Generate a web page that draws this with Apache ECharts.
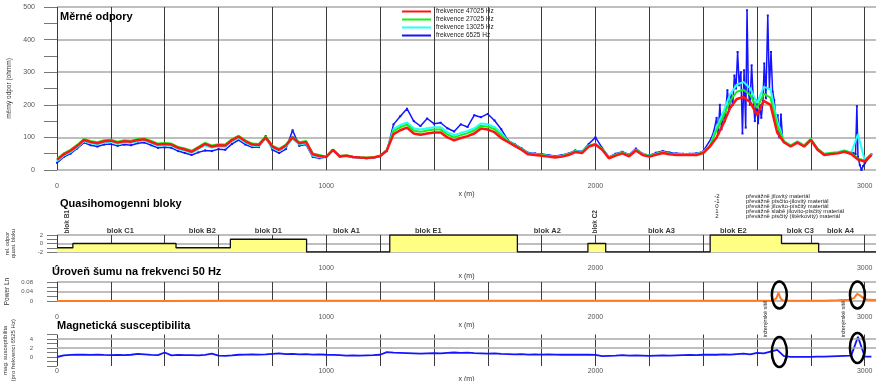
<!DOCTYPE html>
<html>
<head>
<meta charset="utf-8">
<script src="https://cdn.jsdelivr.net/npm/echarts@6/dist/echarts.min.js"></script>
<style>
html, body { margin: 0; padding: 0; background: #fff; }
#main { width: 876px; height: 381px; }
</style>
</head>
<body>
<div id="main"></div>
<script>
// samples every 25 m along the profile
const STEP = 25;
const red = [31,48,59,74,92,86,82,88,90,84, 88,87,92,94,86,78,80,78,68,63,
  56,68,80,72,76,75,92,102,88,78, 77,100,72,62,75,100,82,86,48,43,
  40,62,42,44,40,38,37,38,43,60, 110,122,130,112,108,112,115,115,100,91,
  98,104,112,127,124,116,98,86,74,62, 48,46,44,41,38,41,46,55,52,72,
  78,62,36,44,51,42,60,46,41,47, 52,48,46,46,46,46,52,72,100,142,
  190,218,224,208,168,212,200,115,85,72, 84,72,92,62,46,49,51,56,49,32, 26,46];
const green = [34,51,62,77,95,89,85,91,93,87, 91,90,95,97,89,81,83,81,71,66,
  59,71,83,75,79,78,95,105,91,81, 80,103,75,65,78,103,85,89,51,46,
  41,63,43,45,41,39,38,39,44,61, 119,131,139,121,117,121,124,124,109,100,
  107,113,121,136,133,125,107,88,76,64, 50,48,46,43,40,43,48,57,54,74,
  80,64,38,46,53,44,62,48,43,49, 54,50,48,48,48,48,54,74,122,164,
  212,240,246,230,190,234,222,137,88,75, 87,75,95,65,49,52,54,59,52,35, 29,49];
const cyan = [27,44,55,70,88,82,78,84,86,80, 84,83,88,90,82,74,76,74,64,59,
  52,64,76,68,72,71,88,98,84,74, 73,96,68,58,71,96,78,82,44,39,
  40,62,42,44,40,38,37,38,43,60, 126,138,146,128,124,128,131,131,116,107,
  114,120,128,143,140,132,114,89,77,65, 51,49,47,44,41,44,49,58,55,75,
  81,65,39,47,54,45,63,49,44,50, 55,51,49,49,49,49,55,75,130,178,
  232,262,270,250,205,255,248,150,89,76, 88,76,96,66,50,53,55,60,53,110, 30,50];
const blue = [22,40,50,66,84,76,72,78,80,74, 78,76,82,84,76,68,70,68,58,52,
  46,54,60,58,64,62,80,92,78,70, 70,104,62,52,64,122,74,78,40,36,
  40,60,41,43,39,37,36,37,42,58, 140,165,188,150,135,158,142,145,128,118,
  140,132,168,162,172,152,125,91,79,67, 53,51,49,46,43,46,51,60,57,80,
  100,68,40,50,56,47,66,50,45,53, 58,54,51,50,50,51,57,76,110,190,
  300,362,140,490,160,310,471,170,87,74, 86,74,94,64,48,51,53,58,51,196, 5,48];
// denser readings of the noisy 6525 Hz trace
const blueSpikeDist = [2430,2440,2450,2456,2462,2468,2475,2481,2490,2497,2503,2510,2516,2522,2528,2534,
  2540,2546,2552,2558,2563,2568,2574,2580,2586,2592,2598,2604,2610,2616,2622,2627,2633,2640,2646,2652,
  2658,2664,2670,2677,2683,2689,2695,2702, 2958,2966,2971,2975,2982,2988,2994,3000];
const blueSpike = [97,120,160,110,200,125,170,150,245,190,230,200,290,250,362,260,
  300,112,306,130,490,240,200,321,220,150,214,143,200,160,210,327,220,474,250,362,
  240,214,160,168,100,170,95,85, 52,48,196,40,15,0,12,20];

const magSus = [0,0.35,0.45,0.5,0.5,0.45,0.55,0.45,0.4,0.45, 0.4,0.5,0.7,0.6,0.45,0.4,1.0,0.35,0.45,0.4,
  0.4,0.35,0.45,0.75,0.3,0.25,0.35,0.5,0.55,0.6, 0.55,0.6,0.7,0.8,0.65,0.7,0.6,0.65,0.55,0.6,
  0.5,0.45,0.4,0.3,0.35,0.3,0.35,0.4,0.5,1.1, 0.95,0.9,0.85,0.8,0.75,0.8,0.85,0.8,0.9,1.0,
  0.9,0.95,0.85,0.8,0.75,0.8,0.7,0.65,0.6,0.65, 0.55,0.6,0.55,0.6,0.55,0.5,0.55,0.5,0.5,0.55,
  0.45,0.2,0.25,0.3,0.4,0.3,0.35,0.3,0.25,0.3, 0.35,0.3,0.35,0.4,0.45,0.4,0.5,0.55,0.5,0.6,
  0.55,0.65,0.75,0.6,0.9,0.8,1.2,1.6,0.2,0.05, 0.05,0.05,0.05,0.1,0.1,0.15,0.2,0.25,0.3,4.5, 0.1,0.1];

const powerDist = [0,200,400,600,800,1000,1200,1400,1600,1800,2000,2200,2400,2600,2660,2672,2680,2686,
  2694,2710,2800,2850,2900,2940,2960,2972,2982,2995,3010,3042];
const power = [0,0,0,0.001,0.001,0.001,0.001,0.001,0.001,0.001,0.001,0.001,0.001,0.001,0.001,0.012,0.035,0.014,
  0.003,0.001,0.001,0.001,0.003,0.005,0.012,0.03,0.024,0.012,0.005,0.004];

const blockStart = [0,59,442,644,927,1236,1710,1972,2038,2426,2691,2829,3042];
const blockLevel = [-1,0,-1,1,-2,2,-2,0,-2,2,0,-2,-2];
const blockNames = ['blok B1','blok C1','blok B2','blok D1','blok A1','blok E1','blok A2','blok C2','blok A3','blok E2','blok C3','blok A4'];
const blockLabelX = [38,235,540,785,1075,1379,1821,1999,2245,2512,2761,2910];
const blockRotated = [true,false,false,false,false,false,false,true,false,false,false,false];

const materialCodes = ['-2','-1','0','1','2'];
const materialNames = ['převážně jílovitý materiál','převážně písčito-jílovitý materiál','převážně jílovito-písčitý materiál',
  'převážně slabě jílovito-písčitý materiál','převážně písčitý (štěrkovitý) materiál'];

const ringDist = [2683, 2973];
const ringPower = [0.025, 0.025];
const ringMag = [1.1, 2.0];
const noteDist = [2631, 2921];

const FONT = 'Liberation Sans';
const dist = red.map((v, i) => i * STEP);
const pairs = arr => arr.map((v, i) => [dist[i], v]);
const bluePts = pairs(blue)
  .filter(p => !blueSpikeDist.some(s => Math.abs(s - p[0]) < 12.5))
  .concat(blueSpikeDist.map((d, i) => [d, blueSpike[i]]))
  .sort((a, b) => a[0] - b[0]);

const chart = echarts.init(document.getElementById('main'));

const grids = [
  {left: 57, right: 0, top: 7, height: 163, outerBoundsMode: 'none'},
  {left: 57, right: 0, top: 235, height: 17, outerBoundsMode: 'none'},
  {left: 57, right: 0, top: 282, height: 19, outerBoundsMode: 'none'},
  {left: 57, right: 0, top: 334.5, height: 31.5, outerBoundsMode: 'none'}
];

function xAxisFor(i) {
  // the susceptibility panel's grid runs below zero, so its labels sit tight to the bottom
  const last = i === 3;
  return {
    type: 'value', gridIndex: i, min: 0, max: 3042, interval: 200,
    name: 'x (m)', nameLocation: 'middle', nameGap: last ? 8.5 : 18,
    nameTextStyle: {fontSize: 7, color: '#333', fontFamily: FONT},
    axisLine: {show: false, onZero: false},
    axisTick: {show: false},
    axisLabel: {fontSize: 7, color: '#555', margin: last ? 2 : 13, fontFamily: FONT,
      formatter: v => (v % 1000 === 0 ? String(v) : '')},
    splitLine: {show: true, lineStyle: {color: '#3c3c3c', width: 1}}
  };
}

function yAxisFor(i, o) {
  return Object.assign({
    type: 'value', gridIndex: i, nameLocation: 'middle',
    axisLine: {show: false},
    axisTick: {show: true, length: 10, lineStyle: {color: '#777'}},
    minorTick: {show: true, splitNumber: 2, length: 10, lineStyle: {color: '#777'}},
    splitLine: {show: true, lineStyle: {color: '#a8a8a8', width: 1.5}}
  }, o);
}

const lineStyleSeries = (name, data, color, width, z) => ({
  name, type: 'line', xAxisIndex: 0, yAxisIndex: 0, data, color,
  showSymbol: false, lineStyle: {color, width}, z, silent: true
});

chart.setOption({
  animation: false,
  textStyle: {fontFamily: FONT},
  title: [
    {text: 'Měrné odpory', left: 60, top: 11, padding: 0, textStyle: {fontSize: 11, fontWeight: 'bold', color: '#000'}},
    {text: 'Quasihomogenni bloky', left: 60, top: 198, padding: 0, textStyle: {fontSize: 11, fontWeight: 'bold', color: '#000'}},
    {text: 'Úroveň šumu na frekvenci 50 Hz', left: 52, top: 266.5, padding: 0, textStyle: {fontSize: 11, fontWeight: 'bold', color: '#000'}},
    {text: 'Magnetická susceptibilita', left: 57, top: 320.5, padding: 0, textStyle: {fontSize: 11, fontWeight: 'bold', color: '#000'}}
  ],
  legend: {
    data: ['frekvence 47025 Hz', 'frekvence 27025 Hz', 'frekvence 13025 Hz', 'frekvence 6525 Hz'],
    orient: 'vertical', left: 402, top: 7.5, padding: 0, itemGap: 0,
    itemWidth: 29, itemHeight: 2, icon: 'rect', selectedMode: false,
    textStyle: {fontSize: 6.5, lineHeight: 8, color: '#222'}
  },
  grid: grids,
  xAxis: [0, 1, 2, 3].map(xAxisFor),
  yAxis: [
    yAxisFor(0, {min: 0, max: 500, interval: 100,
      name: 'měrný odpor (ohmm)', nameGap: 41, nameTextStyle: {fontSize: 6.5, color: '#333'},
      axisTick: {show: true, length: 13, lineStyle: {color: '#777'}},
      minorTick: {show: true, splitNumber: 2, length: 13, lineStyle: {color: '#777'}},
      axisLabel: {fontSize: 7, color: '#555', margin: 22}}),
    yAxisFor(1, {min: -2, max: 2, interval: 2,
      name: 'rel. odpor\nquasi. bloku', nameGap: 41, nameTextStyle: {fontSize: 5.5, lineHeight: 6, color: '#333'},
      axisLabel: {fontSize: 6, color: '#555', margin: 14}}),
    yAxisFor(2, {min: 0, max: 0.08, interval: 0.04,
      name: 'Power Ln', nameGap: 44, nameTextStyle: {fontSize: 6.5, color: '#333'},
      axisLabel: {fontSize: 6, color: '#555', margin: 24}}),
    yAxisFor(3, {min: -2, max: 5, interval: 2,
      name: 'mag. susceptibilita\n(pro frekvenci 6525 Hz)', nameGap: 40,
      nameTextStyle: {fontSize: 6, lineHeight: 8, color: '#333'},
      splitLine: {show: false},
      axisLabel: {fontSize: 6, color: '#555', margin: 24,
        formatter: v => (v === 0 || v === 2 || v === 4 ? String(v) : '')}})
  ],
  series: [
    Object.assign(lineStyleSeries('frekvence 6525 Hz', bluePts, '#1414ff', 1.5, 2),
      {showSymbol: true, symbol: 'rect', symbolSize: 2}),
    lineStyleSeries('frekvence 13025 Hz', pairs(cyan), '#22ffff', 2, 3),
    lineStyleSeries('frekvence 27025 Hz', pairs(green), '#14f014', 2, 4),
    lineStyleSeries('frekvence 47025 Hz', pairs(red), '#ff1414', 2.5, 5),
    {
      type: 'line', xAxisIndex: 1, yAxisIndex: 1, step: 'end', showSymbol: false, silent: true,
      data: blockStart.map((d, i) => [d, blockLevel[i]]),
      lineStyle: {color: '#111', width: 1.3},
      areaStyle: {color: '#ffff84', opacity: 1, origin: 'start'}, z: 3
    },
    {
      type: 'scatter', xAxisIndex: 1, yAxisIndex: 1, symbolSize: 0, clip: false, silent: true,
      data: blockLabelX.map((d, i) => ({
        value: [d, 2],
        label: blockRotated[i]
          ? {show: true, position: 'top', distance: 1.5, rotate: 90, align: 'left', verticalAlign: 'middle',
             formatter: blockNames[i], fontSize: 6.5, fontWeight: 'bold', color: '#000'}
          : {show: true, position: 'top', distance: 0,
             formatter: blockNames[i], fontSize: 7.5, fontWeight: 'bold', color: '#000'}
      }))
    },
    {
      type: 'line', xAxisIndex: 2, yAxisIndex: 2, showSymbol: false, silent: true,
      data: powerDist.map((d, i) => [d, power[i]]),
      lineStyle: {color: '#ff7a22', width: 2}, z: 3
    },
    {
      type: 'line', xAxisIndex: 3, yAxisIndex: 3, showSymbol: false, silent: true,
      data: pairs(magSus),
      lineStyle: {color: '#1414ff', width: 1.8}, z: 3,
      markLine: {silent: true, symbol: 'none', label: {show: false},
        lineStyle: {color: '#a8a8a8', width: 1.5, type: 'solid'},
        data: [{yAxis: 2}, {yAxis: 4}]}
    }
  ]
});

// annotations placed through the axes' own scales
const toPx = (g, x, y) => chart.convertToPixel({gridIndex: g}, [x, y]);
const graphics = [];
ringDist.forEach((d, i) => {
  const a = toPx(2, d, ringPower[i]);
  const b = toPx(3, d, ringMag[i]);
  graphics.push({type: 'ellipse', shape: {cx: a[0], cy: a[1], rx: 7.5, ry: 13.5},
    style: {fill: 'none', stroke: '#000', lineWidth: 2.5}, z: 100});
  graphics.push({type: 'ellipse', shape: {cx: b[0], cy: b[1], rx: 7.5, ry: 15},
    style: {fill: 'none', stroke: '#000', lineWidth: 2.5}, z: 100});
});
noteDist.forEach(d => {
  const p = toPx(2, d, 0);
  graphics.push({type: 'text', x: p[0], y: 319, rotation: Math.PI / 2,
    style: {text: 'inženýrské sítě', font: '5.5px ' + FONT, fill: '#222', align: 'center', verticalAlign: 'middle'}, z: 100});
});
materialCodes.forEach((c, i) => {
  const y = 196 + i * 5.1;
  graphics.push({type: 'text', x: 717, y, style: {text: c, font: '6px ' + FONT, fill: '#222', align: 'center', verticalAlign: 'middle'}});
  graphics.push({type: 'text', x: 746, y, style: {text: materialNames[i], font: '5.8px ' + FONT, fill: '#222', align: 'left', verticalAlign: 'middle'}});
});
chart.setOption({graphic: graphics});
</script>
</body>
</html>
